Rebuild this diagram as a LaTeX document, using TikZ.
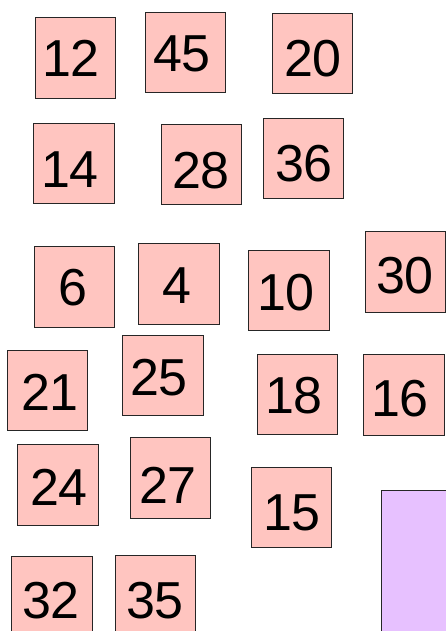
\documentclass[tikz,border=0pt]{standalone}
\usepackage{fontspec}
\setmainfont{Liberation Sans}
\definecolor{boxpink}{HTML}{FFC5C0}
\definecolor{boxpurple}{HTML}{E7C1FF}
\tikzset{
  card/.style={draw=black!85, fill=boxpink, line width=0.9pt, minimum width=80.5pt, minimum height=80.5pt, inner sep=0pt, rectangle},
  num/.style={anchor=base, inner sep=0pt, font=\fontsize{52}{52}\selectfont},
}
\begin{document}
\begin{tikzpicture}[x=1pt,y=-1pt]
\useasboundingbox (0,0) rectangle (445,631);
\fill[white] (0,0) rectangle (445,631);
% boxes: centre x, centre y
\node[card] (b12) at (75.3,58.2) {};
\node[card] (b45) at (185.2,52.6) {};
\node[card] (b20) at (312.3,53.7) {};
\node[card] (b14) at (73.8,163.5) {};
\node[card] (b28) at (201.5,164.5) {};
\node[card] (b36) at (303.2,158.5) {};
\node[card] (b6) at (74.2,286.8) {};
\node[card] (b4) at (179.0,283.8) {};
\node[card] (b10) at (288.8,290.3) {};
\node[card] (b30) at (405.2,271.8) {};
\node[card] (b21) at (47.2,390.5) {};
\node[card] (b25) at (162.7,375.5) {};
\node[card] (b18) at (297.3,394.5) {};
\node[card] (b16) at (404.0,394.8) {};
\node[card] (b24) at (58.0,484.7) {};
\node[card] (b27) at (170.3,478.0) {};
\node[card] (b15) at (291.3,507.2) {};
\node[card] (b32) at (51.7,596.9) {};
\node[card] (b35) at (155.3,595.7) {};
\node[draw=black!85, fill=boxpurple, line width=0.9pt, rectangle, inner sep=0pt, minimum width=90pt, minimum height=220pt, anchor=north west] (purple) at (380.5,489.5) {};
% numbers
\node[num] (t12) at (71,77) {12};
\node[num] (t45) at (182,72) {45};
\node[num] (t20) at (313,77) {20};
\node[num] (t14) at (70,187.3) {14};
\node[num] (t28) at (201,188.3) {28};
\node[num] (t36) at (304,181.7) {36};
\node[num] (t6) at (73,305) {6};
\node[num] (t4) at (177,303.3) {4};
\node[num] (t10) at (286,310) {10};
\node[num] (t30) at (405,293.3) {30};
\node[num] (t21) at (50,410.7) {21};
\node[num] (t25) at (159,395) {25};
\node[num] (t18) at (294,413.3) {18};
\node[num] (t16) at (400,416) {16};
\node[num] (t24) at (59,505) {24};
\node[num] (t27) at (168,503) {27};
\node[num] (t15) at (292,530) {15};
\node[num] (t32) at (51,618) {32};
\node[num] (t35) at (155,618.3) {35};
\end{tikzpicture}
\end{document}
